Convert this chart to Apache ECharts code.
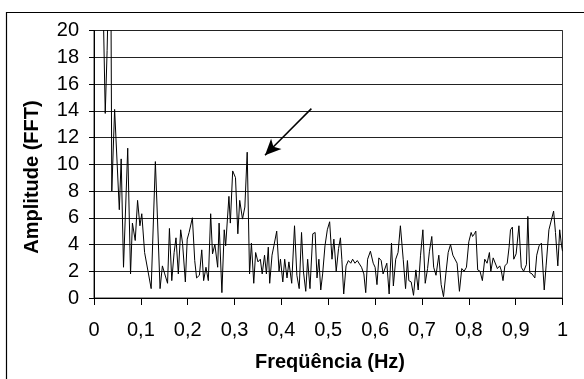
<!DOCTYPE html>
<html>
<head>
<meta charset="utf-8">
<script src="https://cdn.jsdelivr.net/npm/echarts@6/dist/echarts.min.js"></script>
<style>
html,body{margin:0;padding:0;background:#fff;}
#c{width:584px;height:379px;}
</style>
</head>
<body>
<div id="c"></div>
<script>
// Frequency (Hz) of each traced vertex
var freq = [
0,0.006,0.012,0.019,0.024,0.028,0.032,0.036,0.038,0.044,0.054,0.058,0.063,0.072,0.078,0.082,0.088,0.093,0.098,0.102,0.108,0.122,0.131,
0.141,0.146,0.151,0.157,0.161,0.166,0.171,0.175,0.180,0.185,0.189,0.195,0.199,0.203,0.210,0.215,0.219,0.225,0.230,0.234,0.239,0.244,0.249,0.253,0.258,0.264,0.267,0.273,0.278,0.281,
0.288,0.291,0.296,0.302,0.307,0.311,0.317,0.322,0.327,0.332,0.336,0.341,0.345,0.350,0.355,0.359,0.364,0.368,0.372,0.375,0.380,0.384,0.390,0.395,0.398,0.403,0.407,0.412,0.416,0.422,0.428,
0.433,0.438,0.443,0.447,0.452,0.456,0.461,0.467,0.472,0.476,0.480,0.484,0.488,0.493,0.498,0.503,0.508,0.512,0.517,0.522,0.526,0.529,0.533,0.538,0.543,0.548,0.552,0.557,0.562,0.566,0.571,
0.576,0.580,0.584,0.590,0.596,0.600,0.604,0.608,0.613,0.617,0.621,0.625,0.630,0.635,0.639,0.644,0.649,0.654,0.660,0.665,0.669,0.672,0.677,0.682,0.687,0.692,0.697,0.702,0.707,0.712,0.716,0.721,
0.725,0.730,0.736,0.741,0.746,0.751,0.756,0.761,0.766,0.770,0.775,0.780,0.785,0.790,0.795,0.800,0.805,0.808,0.812,0.815,0.819,0.824,0.829,0.834,0.839,0.844,0.847,0.852,0.856,0.861,0.866,
0.869,0.873,0.877,0.882,0.886,0.889,0.893,0.896,0.901,0.907,0.912,0.917,0.923,0.926,0.930,0.935,0.941,0.945,0.950,0.955,0.961,0.965,0.971,0.974,0.981,0.985,0.990,0.994,0.998,1.0
];
// Amplitude (FFT) at each vertex
var amp = [
45,30,26,23,13.8,18.5,25,24,8.0,14.1,6.6,10.4,2.3,11.2,1.8,5.6,4.3,7.3,5.4,6.3,3.4,0.7,10.2,
0.7,2.4,1.8,1.1,5.2,1.3,3.4,4.5,1.8,5.1,4.1,1.2,4.4,4.9,6.0,2.8,1.5,1.7,3.6,1.3,2.3,1.3,6.3,3.3,4.0,2.3,5.6,0.4,5.1,3.9,
7.6,5.6,9.5,9.0,4.8,7.3,5.9,6.8,10.9,1.8,4.1,1.1,3.4,2.7,2.9,1.8,3.2,1.8,3.8,1.1,3.2,3.9,5.0,2.0,2.9,1.2,2.9,1.5,2.7,1.1,5.4,
1.7,0.7,4.9,2.0,0.5,2.9,0.7,4.8,4.9,1.5,2.9,0.6,1.8,3.9,5.1,5.7,2.9,4.4,2.0,3.7,4.5,2.9,0.3,2.4,2.8,2.6,2.9,2.6,2.8,2.7,2.3,
1.8,0.4,2.9,3.5,2.6,2.3,1.0,3.0,2.8,1.8,1.8,2.6,0.3,4.1,0.9,2.9,3.4,5.4,2.9,0.7,2.8,1.3,1.2,0.2,2.1,0.6,3.2,5.1,1.1,2.2,3.5,4.6,
2.3,1.7,3.2,1.0,0.1,1.8,3.4,4.0,3.2,3.2,2.6,0.5,2.2,2.0,2.3,4.2,4.9,4.6,4.8,5.0,2.1,2.0,1.3,2.9,2.6,3.4,2.0,3.0,2.9,2.2,2.4,
2.1,1.3,2.4,2.6,3.8,5.1,5.3,2.9,3.3,5.4,2.3,2.0,2.5,6.1,1.9,1.8,1.5,3.2,3.9,4.1,0.6,2.4,5.1,5.2,6.5,4.9,2.4,5.1,3.9,3.5
];
var xTitle = 'Freqüência (Hz)';
var yTitle = 'Amplitude (FFT)';
var arrowFrom = [0.464, 14.16];
var arrowTo = [0.365, 10.67];

var FONT = "'Liberation Sans', Arial, sans-serif";
var chart = echarts.init(document.getElementById('c'), null, {renderer: 'canvas'});
var data = freq.map(function (f, i) { return [f, amp[i]]; });

chart.setOption({
  animation: false,
  backgroundColor: '#fff',
  grid: {left: 94, top: 30.5, right: 21.5, bottom: 81, show: true, borderColor: '#333', borderWidth: 1, backgroundColor: '#fff'},
  xAxis: {
    type: 'value', min: 0, max: 1, interval: 0.1,
    axisLine: {show: true, onZero: false, lineStyle: {color: '#000', width: 1}},
    axisTick: {show: true, inside: false, length: 7, lineStyle: {color: '#000'}},
    splitLine: {show: false},
    axisLabel: {
      margin: 22, color: '#000', fontSize: 20, fontFamily: FONT,
      formatter: function (v) { return String(+v.toFixed(1)).replace('.', ','); }
    }
  },
  yAxis: {
    type: 'value', min: 0, max: 20, interval: 2,
    axisLine: {show: true, onZero: false, lineStyle: {color: '#000', width: 1}},
    axisTick: {show: true, inside: false, length: 5, lineStyle: {color: '#000'}},
    splitLine: {show: true, lineStyle: {color: '#222', width: 1}},
    axisLabel: {margin: 15, color: '#000', fontSize: 20, fontFamily: FONT}
  },
  series: [{
    type: 'line',
    data: data,
    symbol: 'none',
    clip: true,
    lineStyle: {color: '#000', width: 1},
    markLine: {
      silent: true,
      symbol: ['none', 'arrow'],
      symbolSize: [11, 16],
      label: {show: false},
      lineStyle: {color: '#000', width: 1.5, type: 'solid'},
      data: [[{coord: arrowFrom}, {coord: arrowTo}]]
    }
  }],
  graphic: [
    {type: 'rect', shape: {x: 6.5, y: 12.5, width: 600, height: 400}, style: {fill: 'none', stroke: '#000', lineWidth: 1.2}, silent: true},
    {type: 'text', x: 32, y: 177, rotation: Math.PI / 2,
     style: {text: yTitle, fill: '#000', font: 'bold 20px ' + FONT, textAlign: 'center', textVerticalAlign: 'middle'}},
    {type: 'text', x: 330, y: 362,
     style: {text: xTitle, fill: '#000', font: 'bold 20px ' + FONT, textAlign: 'center', textVerticalAlign: 'middle'}}
  ]
});
</script>
</body>
</html>
